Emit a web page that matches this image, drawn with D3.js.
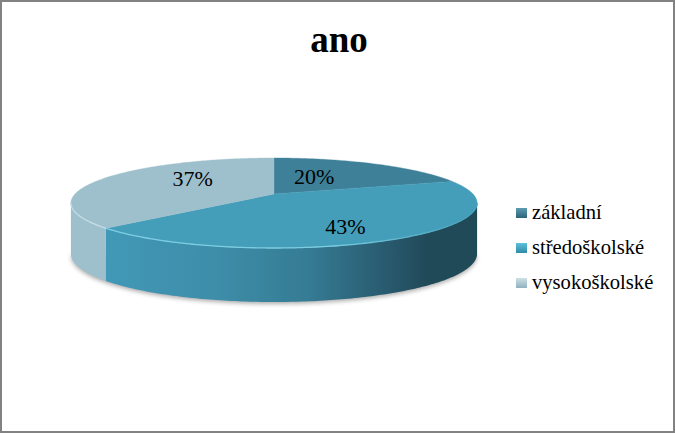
<!DOCTYPE html>
<html><head><meta charset="utf-8">
<script src="https://cdn.jsdelivr.net/npm/d3@7"></script>
<style>html,body{margin:0;padding:0;background:#fff}svg{display:block}text{font-family:"Liberation Serif",serif;fill:#000}</style>
</head><body><svg id="c" width="675" height="433"></svg>
<script>
const chartTitle = "ano";
const categories = ["základní", "středoškolské", "vysokoškolské"];
const shares = [20, 43, 37];
const sliceColors = ["#3f8099", "#449eba", "#9ebfcc"];
const rimColors = ["#5f9db3", "#7ccde2", "#c6dde5"];
const wallStops = [[0, "#4199b7"], [0.3, "#3e8dA9"], [0.55, "#357b93"], [0.78, "#27566a"], [0.86, "#214a59"], [1, "#214a59"]];

const W = 675, H = 433;
const cx = 274, cy = 194, R = 199, A = 43.2, k = 0.2;
const project = (a, r = 1) => {
  const u = Math.sin(a) * r, v = -Math.cos(a) * r, d = 1 - k * v;
  return [cx + R * u / d, cy + A * v / d, v];
};
const lower = p => [p[0], p[1] + 50 + 4 * p[2]];
const arcPts = (a0, a1) => {
  const n = Math.max(2, Math.ceil((a1 - a0) / 0.015));
  return d3.range(n + 1).map(i => project(a0 + (a1 - a0) * i / n));
};
const line = d3.line();
const svg = d3.select("#c");
const defs = svg.append("defs");

const wg = defs.append("linearGradient").attr("id", "wall").attr("gradientUnits", "userSpaceOnUse")
  .attr("x1", 104).attr("x2", 478).attr("y1", 0).attr("y2", 0);
wallStops.forEach(s => wg.append("stop").attr("offset", s[0]).attr("stop-color", s[1]));
const rg = defs.append("linearGradient").attr("id", "rim").attr("gradientUnits", "userSpaceOnUse")
  .attr("x1", 104).attr("x2", 478).attr("y1", 0).attr("y2", 0);
rg.append("stop").attr("offset", 0).attr("stop-color", rimColors[1]);
rg.append("stop").attr("offset", 0.6).attr("stop-color", rimColors[1]);
rg.append("stop").attr("offset", 1).attr("stop-color", sliceColors[1]);
defs.append("filter").attr("id", "blur").attr("x", "-10%").attr("y", "-30%").attr("width", "120%").attr("height", "160%")
  .append("feGaussianBlur").attr("stdDeviation", 2.2);
const legendGrads = [["#5d9cb2", "#2c6379"], ["#5cc0dc", "#2f8aa8"], ["#cfe0e7", "#8fb1bf"]];
legendGrads.forEach((g, i) => {
  const lg = defs.append("linearGradient").attr("id", "lg" + i).attr("x1", 0).attr("x2", 0).attr("y1", 0).attr("y2", 1);
  lg.append("stop").attr("offset", 0).attr("stop-color", g[0]);
  lg.append("stop").attr("offset", 1).attr("stop-color", g[1]);
});

svg.append("rect").attr("width", W).attr("height", H).attr("fill", "#fff");

const pie = d3.pie().sort(null).value(d => d)(shares);
const tanA = Math.acos(-k), frontStart = tanA, frontEnd = 2 * Math.PI - tanA;

// soft shadow under the disc
const bottomArc = arcPts(frontStart, frontEnd).map(lower).map(p => [p[0], p[1] + 2]);
svg.append("path").attr("d", line(bottomArc) + "Z").attr("fill", "#777").attr("opacity", 0.6).attr("filter", "url(#blur)");

// side walls (front part only)
pie.forEach((s, i) => {
  const a0 = Math.max(s.startAngle, frontStart), a1 = Math.min(s.endAngle, frontEnd);
  if (a1 <= a0) return;
  const top = arcPts(a0, a1);
  const bot = top.map(lower).reverse();
  svg.append("path").attr("d", line(top.map(p => [p[0], p[1]]).concat(bot)) + "Z")
    .attr("fill", i === 1 ? "url(#wall)" : sliceColors[i]);
});

// top faces
pie.forEach((s, i) => {
  const pts = [project(0, 0)].concat(arcPts(s.startAngle, s.endAngle)).map(p => [p[0], p[1]]);
  svg.append("path").attr("d", line(pts) + "Z").attr("fill", sliceColors[i])
    .attr("stroke", sliceColors[i]).attr("stroke-width", 0.4);
});

// bevel highlight on the front of the rim
pie.forEach((s, i) => {
  const a0 = Math.max(s.startAngle, frontStart), a1 = Math.min(s.endAngle, frontEnd);
  if (a1 <= a0) return;
  svg.append("path").attr("d", line(arcPts(a0, a1).map(p => [p[0], p[1]]))).attr("fill", "none")
    .attr("stroke", i === 1 ? "url(#rim)" : rimColors[i]).attr("stroke-width", 1.3);
});

// data labels
const labelNudge = [[-9, -2], [22, 15], [-2, -7]];
pie.forEach((s, i) => {
  const p = project((s.startAngle + s.endAngle) / 2, 0.45);
  svg.append("text").attr("x", p[0] + labelNudge[i][0]).attr("y", p[1] + labelNudge[i][1] + 6.5)
    .attr("text-anchor", "middle").attr("font-size", 22).text(s.value + "%");
});

// title
svg.append("text").attr("x", 339).attr("y", 52).attr("text-anchor", "middle")
  .attr("font-size", 37).attr("font-weight", "bold").text(chartTitle);

// legend
const ly = d3.scalePoint().domain(categories).range([213, 283]);
categories.forEach((c, i) => {
  svg.append("rect").attr("x", 516).attr("y", ly(c) - 5).attr("width", 11).attr("height", 10)
    .attr("fill", `url(#lg${i})`);
  svg.append("text").attr("x", 532).attr("y", ly(c) + 5.5).attr("font-size", 20.6).text(c);
});

// frame
svg.append("rect").attr("x", 1).attr("y", 1).attr("width", W - 2).attr("height", H - 2)
  .attr("fill", "none").attr("stroke", "#828282").attr("stroke-width", 2);
</script></body></html>
